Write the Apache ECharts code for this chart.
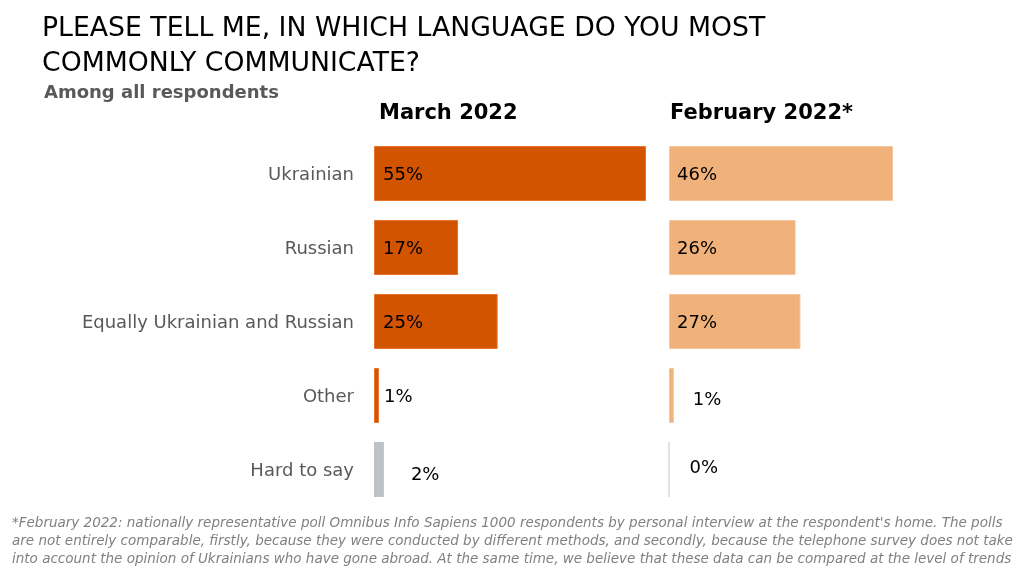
<!DOCTYPE html>
<html><head><meta charset="utf-8">
<script src="https://cdn.jsdelivr.net/npm/echarts@6/dist/echarts.min.js"></script>
<style>html,body{margin:0;padding:0;background:#fff}#c{width:1034px;height:578px}</style>
</head><body><div id="c"></div>
<script>
const categories = ['Ukrainian', 'Russian', 'Equally Ukrainian and Russian', 'Other', 'Hard to say'];
const march2022 = [55, 17, 25, 1, 2];
const feb2022 = [46, 26, 27, 1, 0];
const titleLines = ['PLEASE TELL ME, IN WHICH LANGUAGE DO YOU MOST', 'COMMONLY COMMUNICATE?'];
const subtitle = 'Among all respondents';
const headers = ['March 2022', 'February 2022*'];
const footLines = [
  "*February 2022: nationally representative poll Omnibus Info Sapiens 1000 respondents by personal interview at the respondent's home. The polls",
  "are not entirely comparable, firstly, because they were conducted by different methods, and secondly, because the telephone survey does not take",
  "into account the opinion of Ukrainians who have gone abroad. At the same time, we believe that these data can be compared at the level of trends"
];

const FONT = '"DejaVu Sans", Verdana, sans-serif';
const DARK = '#D35400', LIGHT = '#F0B27A', GREY = '#BDC3C7';

// label placement per bar (style only)
const marchLab = [
  {position: 'insideLeft', distance: 9, offset: [0, 2]},
  {position: 'insideLeft', distance: 9, offset: [0, 2]},
  {position: 'insideLeft', distance: 9, offset: [0, 2]},
  {position: 'right', distance: 5, offset: [0, 2]},
  {position: 'right', distance: 27, offset: [0, 6]}
];
const febLab = [
  {position: 'insideLeft', distance: 8, offset: [0, 2]},
  {position: 'insideLeft', distance: 8, offset: [0, 2]},
  {position: 'insideLeft', distance: 8, offset: [0, 2]},
  {position: 'right', distance: 19, offset: [0, 5]},
  {position: 'right', distance: 20, offset: [0, -1]}
];

const marchData = march2022.map((v, i) => ({
  value: v,
  itemStyle: i === 4 ? {color: GREY, borderColor: GREY, borderWidth: 0}
                     : {color: DARK, borderColor: '#E8732A', borderWidth: 1},
  label: marchLab[i]
}));
const febData = feb2022.map((v, i) => ({
  value: v,
  itemStyle: i === 4 ? {color: '#D9D9D9', borderColor: '#D9D9D9', borderWidth: 1}
                     : {color: LIGHT, borderColor: '#F5C79E', borderWidth: 1},
  label: febLab[i]
}));

const chart = echarts.init(document.getElementById('c'), null, {renderer: 'canvas'});
const catAxis = (idx, show) => ({
  type: 'category', gridIndex: idx, data: categories, inverse: true,
  axisLine: {show: false}, axisTick: {show: false},
  axisLabel: {show: show, margin: 20, formatter: '{a|{value}}',
    rich: {a: {fontSize: 18, color: '#595959', fontFamily: FONT, padding: [4, 0, 0, 0]}}}
});
const valAxis = (idx) => ({
  type: 'value', gridIndex: idx, min: 0, max: 60, show: false, splitLine: {show: false}
});

chart.setOption({
  animation: false,
  backgroundColor: '#fff',
  textStyle: {fontFamily: FONT},
  grid: [
    {left: 374, top: 136.5, width: 296.7, height: 370},
    {left: 669, top: 136.5, width: 292.2, height: 370}
  ],
  xAxis: [valAxis(0), valAxis(1)],
  yAxis: [catAxis(0, true), catAxis(1, false)],
  series: [
    {type: 'bar', xAxisIndex: 0, yAxisIndex: 0, data: marchData, barWidth: 55,
     label: {show: true, formatter: '{c}%', color: '#000', fontSize: 18, fontFamily: FONT}},
    {type: 'bar', xAxisIndex: 1, yAxisIndex: 1, data: febData, barWidth: 55,
     label: {show: true, formatter: '{c}%', color: '#000', fontSize: 18, fontFamily: FONT}}
  ],
  graphic: [
    {type: 'text', left: 42, top: 16, style: {text: titleLines[0], fontSize: 26.7, fill: '#000', fontFamily: FONT}},
    {type: 'text', left: 42, top: 51, style: {text: titleLines[1], fontSize: 26.7, fill: '#000', fontFamily: FONT}},
    {type: 'text', left: 44, top: 84, style: {text: subtitle, fontSize: 18, fontWeight: 'bold', fill: '#595959', fontFamily: FONT}},
    {type: 'text', left: 379, top: 103, style: {text: headers[0], fontSize: 21, fontWeight: 'bold', fill: '#000', fontFamily: FONT}},
    {type: 'text', left: 670, top: 103, style: {text: headers[1], fontSize: 21, fontWeight: 'bold', fill: '#000', fontFamily: FONT}},
    {type: 'text', left: 12, top: 516, style: {text: footLines[0], fontSize: 13.5, fontStyle: 'italic', fill: '#808080', fontFamily: FONT}},
    {type: 'text', left: 12, top: 534, style: {text: footLines[1], fontSize: 13.5, fontStyle: 'italic', fill: '#808080', fontFamily: FONT}},
    {type: 'text', left: 12, top: 552, style: {text: footLines[2], fontSize: 13.5, fontStyle: 'italic', fill: '#808080', fontFamily: FONT}}
  ]
});
</script></body></html>
